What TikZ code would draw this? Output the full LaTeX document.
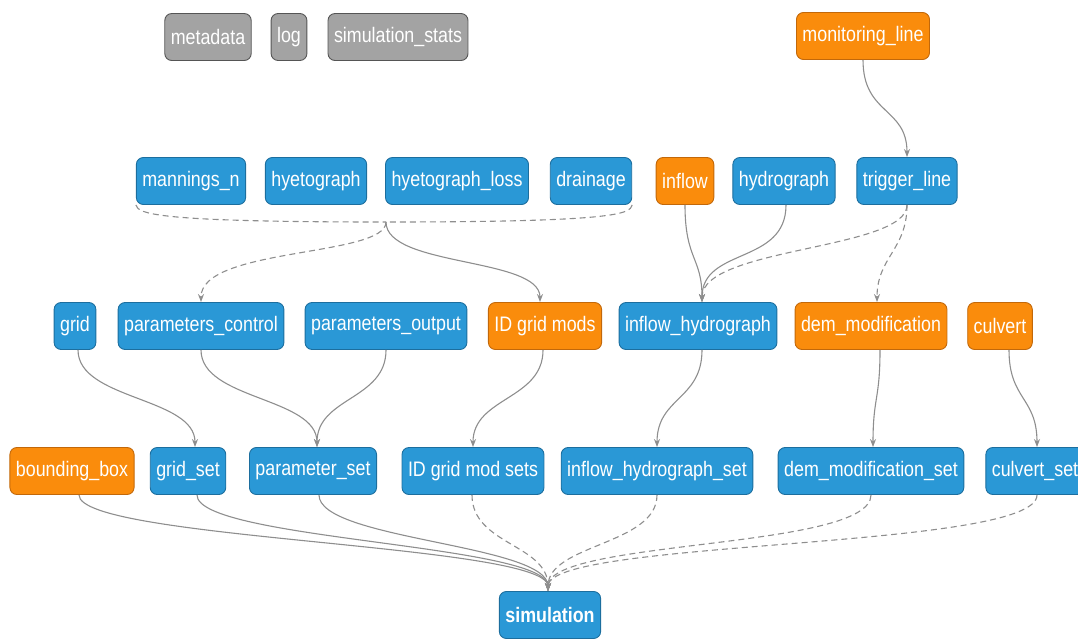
\documentclass[tikz,border=0pt]{standalone}
\usepackage{fontspec}
\setmainfont{Liberation Sans}[FakeStretch=0.85]
\usetikzlibrary{arrows.meta}
\definecolor{nblue}{HTML}{2A98D6}
\definecolor{nblueD}{HTML}{1C6E9E}
\definecolor{norange}{HTML}{FA8C0C}
\definecolor{norangeD}{HTML}{C2680A}
\definecolor{ngray}{HTML}{A3A3A3}
\definecolor{ngrayD}{HTML}{555555}
\definecolor{egray}{HTML}{8E8E8E}
\begin{document}
\begin{tikzpicture}[x=1pt,y=-1pt,
  box/.style={rounded corners=7pt, draw, line width=0.9pt, text=white,
    font=\fontsize{21}{24}\selectfont, minimum height=47pt, inner xsep=6pt, inner ysep=0pt},
  bluebox/.style={box, fill=nblue, draw=nblueD},
  orangebox/.style={box, fill=norange, draw=norangeD},
  graybox/.style={box, fill=ngray, draw=ngrayD},
  edge/.style={draw=egray, line width=1.1pt, -{Stealth[length=8pt,width=6pt]}},
  dedge/.style={edge, dash pattern=on 6pt off 4pt},
  dline/.style={draw=egray, line width=1.1pt, dash pattern=on 6pt off 4pt}]
\useasboundingbox (0,0) rectangle (1078,641);
% row 0
\node[graybox] (metadata) at (208,37) {metadata};
\node[graybox] (log) at (289,37) {log};
\node[graybox] (simstats) at (398,37) {simulation\_stats};
\node[orangebox] (monitoring) at (863,36) {monitoring\_line};
% row 1
\node[bluebox] (mannings) at (191,181) {mannings\_n};
\node[bluebox] (hyetograph) at (316,181) {hyetograph};
\node[bluebox] (hyetloss) at (457,181) {hyetograph\_loss};
\node[bluebox] (drainage) at (591,181) {drainage};
\node[orangebox] (inflow) at (685,181) {inflow};
\node[bluebox] (hydrograph) at (784,181) {hydrograph};
\node[bluebox] (trigger) at (907,181) {trigger\_line};
% row 2
\node[bluebox] (grid) at (75,326) {grid};
\node[bluebox] (pcontrol) at (201,326) {parameters\_control};
\node[bluebox] (poutput) at (386,326) {parameters\_output};
\node[orangebox] (idmods) at (545,326) {ID grid mods};
\node[bluebox] (inhydro) at (698,326) {inflow\_hydrograph};
\node[orangebox] (demmod) at (871,326) {dem\_modification};
\node[orangebox] (culvert) at (1000,326) {culvert};
% row 3
\node[orangebox] (bbox) at (72,471) {bounding\_box};
\node[bluebox] (gridset) at (188,471) {grid\_set};
\node[bluebox] (pset) at (313,471) {parameter\_set};
\node[bluebox] (idmodsets) at (473,471) {ID grid mod sets};
\node[bluebox] (inhydroset) at (657,471) {inflow\_hydrograph\_set};
\node[bluebox] (demmodset) at (871,471) {dem\_modification\_set};
\node[bluebox] (culvertset) at (1035,471) {culvert\_set};
% row 4
\node[bluebox, font=\fontsize{21}{24}\selectfont\bfseries] (sim) at (550,615) {simulation};

% monitoring -> trigger
\draw[edge] (monitoring.south) .. controls +(0,55) and +(0,-50) .. (trigger.north);
% bundle under row 1
\coordinate (J) at (386,222);
\draw[dline] (mannings.south west) .. controls +(2,9) and +(-230,0) .. (J);
\draw[dline] (drainage.south east) .. controls +(-2,9) and +(230,0) .. (J);
\draw[edge] (J) .. controls +(0,45) and +(0,-45) .. ([xshift=-5pt]idmods.north);
\draw[dedge] (J) .. controls +(0,35) and +(0,-55) .. (pcontrol.north);
% into inflow_hydrograph
\draw[edge] (inflow.south) .. controls +(0,55) and +(0,-45) .. ([xshift=4pt]inhydro.north);
\draw[edge] ([xshift=2pt]hydrograph.south) .. controls +(0,60) and +(0,-55) .. ([xshift=4pt]inhydro.north);
\draw[dedge] (trigger.south) .. controls +(0,45) and +(0,-55) .. ([xshift=4pt]inhydro.north);
\draw[dedge] (trigger.south) .. controls +(0,45) and +(0,-45) .. ([xshift=6pt]demmod.north);
% row 2 -> row 3
\draw[edge] ([xshift=3pt]grid.south) .. controls +(0,50) and +(0,-50) .. ([xshift=7pt]gridset.north);
\draw[edge] (pcontrol.south) .. controls +(0,50) and +(0,-50) .. ([xshift=4pt]pset.north);
\draw[edge] (poutput.south) .. controls +(0,50) and +(0,-50) .. ([xshift=4pt]pset.north);
\draw[edge] ([xshift=-2pt]idmods.south) .. controls +(0,50) and +(0,-50) .. (idmodsets.north);
\draw[edge] ([xshift=4pt]inhydro.south) .. controls +(0,50) and +(0,-50) .. (inhydroset.north);
\draw[edge] ([xshift=9pt]demmod.south) .. controls +(0,50) and +(0,-50) .. ([xshift=2pt]demmodset.north);
\draw[edge] ([xshift=9pt]culvert.south) .. controls +(0,50) and +(0,-50) .. ([xshift=2pt]culvertset.north);
% row 3 -> simulation
\draw[edge] ([xshift=7pt]bbox.south) .. controls +(0,45) and +(0,-47) .. ([xshift=-2pt]sim.north);
\draw[edge] ([xshift=9pt]gridset.south) .. controls +(0,45) and +(0,-47) .. ([xshift=-2pt]sim.north);
\draw[edge] ([xshift=6pt]pset.south) .. controls +(0,45) and +(0,-47) .. ([xshift=-2pt]sim.north);
\draw[dedge] ([xshift=-1pt]idmodsets.south) .. controls +(0,50) and +(0,-47) .. ([xshift=-2pt]sim.north);
\draw[dedge] (inhydroset.south) .. controls +(0,50) and +(0,-47) .. ([xshift=-2pt]sim.north);
\draw[dedge] (demmodset.south) .. controls +(0,55) and +(0,-52) .. ([xshift=-2pt]sim.north);
\draw[dedge] ([xshift=2pt]culvertset.south) .. controls +(0,55) and +(0,-52) .. ([xshift=-2pt]sim.north);
\end{tikzpicture}
\end{document}
